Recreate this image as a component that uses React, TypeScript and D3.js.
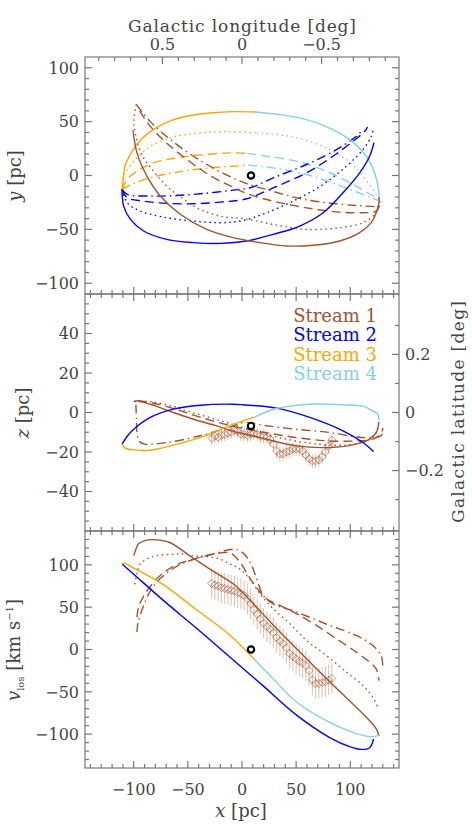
import React from "react";
import * as d3 from "d3";

// ---------------- data: top panel (x [pc], y [pc]) ----------------
const s1TopSolid = [[-100.6,42],[-97,21],[-87.8,-0.6],[-75.5,-19],[-57,-36],[-32.5,-50],[-8,-57.7],[16.6,-62.3],[41,-65.4],[65.7,-64.8],[90.2,-60.8],[108.7,-53],[119.4,-43.8],[124,-34.6],[126.5,-25.3],[126.5,-20]];
const s1TopDot = [[-97.6,66],[-99.5,55],[-100,48],[-98.5,39.5],[-95.5,27],[-90.9,16.4],[-81.7,4],[-69.4,-10],[-54,-22],[-38.7,-31.5],[-17.2,-38.3],[2,-40],[28.8,-45.4],[59.6,-50],[90.2,-48.5],[111.7,-43.8],[122.5,-36],[125.5,-28.4]];
const s1TopDash = [[-94.5,60],[-84.7,45.6],[-69.4,30],[-51,15],[-29.5,0],[-8,-11],[5,-17],[28.8,-23.8],[59.6,-30],[90.2,-34],[111.7,-34.6],[124,-33],[127,-28]];
const s1TopDashDot = [[-97.6,66],[-84.7,50],[-69.4,36],[-51,22],[-29.5,8.6],[-8,-2.5],[7,-8.5],[22.7,-13],[50.4,-20.7],[78,-25.3],[105.6,-27.8],[127,-28.4],[130,-26]];

const s2TopSolid = [[-110.8,-13],[-109.3,-28.4],[-103,-40.7],[-90.9,-51.5],[-69.4,-59.3],[-44.8,-62.3],[-20,-63],[4.3,-60.8],[28.8,-54.6],[53.4,-46.9],[74.9,-34.6],[93.3,-16],[108.7,2.5],[117.9,17.9],[121.9,30.5]];
const s2TopDot = [[-110.8,-13],[-106,-25.3],[-94,-33],[-69.4,-39.2],[-44.8,-42.3],[-20,-43.8],[0,-42],[22.7,-34.6],[50.4,-22.2],[74.9,-8.3],[96.4,8.6],[111.7,24],[119.4,36.4],[121,42]];
const s2TopDash = [[-110.8,-13],[-106,-20.7],[-90.9,-23.8],[-69.4,-25.9],[-44.8,-26.2],[-20,-24.7],[4.3,-21.6],[28.8,-11.4],[59.6,2.5],[84,17.9],[102.5,31.8],[113.3,41],[116,45]];
const s2TopDashDot = [[-110.8,-13],[-106,-17.6],[-84.7,-19.1],[-60,-18.5],[-35.6,-16.7],[-8,-13.6],[7.4,-11.4],[28.8,-2.2],[59.6,10.2],[87.2,24],[105.6,36.4],[112,43]];

const s3TopSolid = [[-110.8,-13],[-109.5,-3],[-108.2,8.6],[-104,18],[-98.5,27],[-92,34.5],[-84.3,41],[-69.4,49.4],[-51,55],[-29.5,58],[-8,59.3],[12,59]];
const s3TopDot = [[-110.8,-13],[-109.3,-0.6],[-100,13],[-84.7,27],[-63.3,35.8],[-38.7,39.5],[-14,40.7],[13.5,39.5]];
const s3TopDash = [[-110.8,-13],[-106,-3.7],[-97,4],[-81.7,11.7],[-60,16.4],[-35.6,19.4],[-8,21],[5,20.5]];
const s3TopDashDot = [[-110.8,-13],[-100,-7.4],[-81.7,-1.2],[-60,3.1],[-35.6,6.5],[-8,8.6],[6,9.6]];

const s4TopSolid = [[12,59],[35,56.5],[59.6,51.8],[81,44],[99.4,33.3],[114.8,17.9],[122.5,2.5],[126.5,-16],[126.5,-21]];
const s4TopDot = [[13.5,39.5],[44.2,36.4],[74.9,27],[96.4,14.8],[111.7,-0.6],[124,-17.6],[128.6,-25.3]];
const s4TopDash = [[5,20.5],[22.7,17.9],[50.4,13.3],[78,4],[102.5,-8.3],[121,-19],[127,-22]];
const s4TopDashDot = [[6,9.6],[28.8,7.1],[59.6,0.9],[87.2,-8.3],[111.7,-17.6],[127,-23.8],[130,-26]];

// ---------------- data: middle panel (x [pc], z [pc]) ----------------
const s1MidSolid = [[-100,5.4],[-98.5,5.9],[-84.7,4.2],[-75.5,2.5],[-63.3,0],[-44.8,-3.4],[-25,-6.5],[-8,-9.5],[16.6,-12.7],[50.4,-16.9],[81,-17.7],[105.6,-16],[117.9,-13.5],[124,-10.1],[126.4,-4.8]];
const s1MidDot = [[-99,5.5],[-83,5.4],[-63,3],[-51,0.8],[-20,-4.2],[10.4,-9.3],[41,-13.5],[70,-16],[95,-16.5],[112,-15],[122,-12],[126,-7]];
const s1MidDash = [[-96,6],[-84,5],[-63,2],[-38,-2.5],[-8,-7],[20,-10],[50.4,-12.7],[81,-14.4],[105.6,-14.4],[121,-13.5],[128,-11],[130,-8]];
const s1MidDashDot = [[-98,4],[-97.5,-3],[-97,-10],[-95,-14.5],[-90,-16],[-69.4,-15.2],[-38.7,-11.8],[-8,-6.8],[1.2,-5],[20,-6.5],[50,-8.5],[81,-10.1],[111.7,-12.7],[128.5,-11.8],[130,-8]];
const s2MidSolid = [[-110.8,-16],[-106,-12],[-100,-8.5],[-84.7,-2.5],[-63.3,1.7],[-38.7,3.7],[-8,4.2],[1.2,3.9],[32,2.2],[62.6,-2.5],[93.3,-9.3],[111.7,-15.2],[121.5,-19.8]];
const s3MidSolid = [[-110.8,-16],[-108,-18],[-100,-18.9],[-84.7,-19.1],[-63.3,-16.5],[-38.7,-12.7],[-8,-5.9],[1.2,-4.2],[12,-2.2]];
const s4MidSolid = [[12,-2.2],[32,2],[62.6,4.2],[93.3,3.9],[111.7,3.2],[120,1],[125.6,-0.9],[126.4,-4.2]];

// ---------------- data: bottom panel (x [pc], v_los [km/s]) ----------------
const s1BotSolid = [[-100,111],[-97.5,120],[-95.5,125],[-89,129],[-83,129.8],[-67.8,127],[-46.3,109],[-27.9,93.5],[-6.4,76],[12,52],[28.8,29],[50.4,1],[81,-38],[111.7,-76],[124,-93.8],[126.5,-102]];
const s1BotDot = [[-99,77],[-97,90],[-94,101],[-86,108],[-78.6,111],[-64.7,112.4],[-54,113],[-46.3,111],[-23.3,108],[-11,101],[-1.8,95],[8,82],[17,65],[28.8,48.2],[44.2,30.4],[59.6,10.7],[78,-7.1],[96.4,-26.7],[111.7,-42.6],[120.8,-56.3],[126.5,-71]];
const s1BotDash = [[-97,38],[-95.5,50],[-89.4,66],[-77,85.7],[-61.6,99.4],[-43.3,107.3],[-24.9,113],[-11,114],[-1.8,103],[7.4,84],[16.6,68],[22.7,60],[35,52],[50.4,42.2],[68.8,28.4],[87.2,12.7],[105.6,-3.1],[117.9,-15],[124,-22.8],[126.5,-36.7]];
const s1BotDashDot = [[-97,20.6],[-96.5,28],[-95.5,34.3],[-86,66],[-74,85.7],[-55.6,101.4],[-37,109.3],[-22,114.5],[-8,118.5],[0,115],[7.4,103.4],[13.5,83.7],[19.6,64],[28.8,54],[50.4,44.3],[81,28.4],[105.6,16.6],[120.8,4.7],[128.5,-7.1],[130,-19]];
const s2BotSolid = [[-110.8,101],[-100,89],[-74,59.5],[-43.3,26.5],[-12.6,-7.4],[7.4,-29.5],[19.6,-43],[50.4,-77.5],[81,-104],[100,-115],[110,-118],[117.9,-116],[121.5,-105.7]];
const s3BotSolid = [[-110.8,101.5],[-108,101.8],[-104.7,99.4],[-74,77.8],[-43.3,48.2],[-12.6,18.6],[12,-12.5]];
const s4BotSolid = [[12,-12.5],[28.8,-34.7],[50.4,-62],[81,-86],[111.7,-101.5],[120,-103],[126.5,-101.5]];

// ---------------- observed stream-1 data ----------------
const obsX = [-28,-25,-22,-19,-16,-13,-10,-7,-4,-1,2,5,8,11,14,17,20,23,26,29,32,35,38,41,44,47,50,53,56,59,62,65,68,71,74,77,80,83];
const obsZ = [-13,-12,-12.5,-11.5,-11,-10.5,-10,-9,-9.5,-11,-11,-11.5,-11,-10.5,-11,-12,-12,-12.5,-13.5,-16,-19.5,-21,-21,-20,-19.5,-18.5,-18.5,-18.5,-19.5,-21.5,-23.5,-24.5,-24.5,-24,-22.5,-20,-17,-14];
const obsV = [78,76,75,73,72,71,70,69,67,66,64,60,54,47,42,36,31,27,24,20,14,10,7,2,-5,-8,-11,-14,-16,-19,-25,-36,-40,-40,-39,-38,-36,-34];
const obsZErr = 3.5;
const obsVErr = 18;

// reference marker
const markX = [8.3];
const markY = [0];
const markZ = [-6.8];
const markV = [0];

// axis ticks / labels
const yTopTicks = [-100, -50, 0, 50, 100];
const zTicks = [-40, -20, 0, 20, 40];
const vTicks = [-100, -50, 0, 50, 100];
const xTicks = [-100, -50, 0, 50, 100];
const lonLabels = [0.5, 0, -0.5];
const latLabels = [0.2, 0, -0.2];
const legendNames = ["Stream 1", "Stream 2", "Stream 3", "Stream 4"];

const PC_PER_DEG = 147;
const COLORS = ["#A0522D", "#0000FF", "#FFA500", "#87CEEB"];
const FONT = "DejaVu Serif";
const TXT = "#444";
const AXC = "#777";
const DASH: Record<string, string | undefined> = {
  solid: undefined,
  dot: "1.5,3.5",
  dash: "9,5",
  dashdot: "9,4,1.5,4",
};

const FL = 85, FR = 399, PH = 237;
const TOPS = [57, 294, 531];

const fmt = (v: number) => (v < 0 ? "\u2212" + String(Math.abs(v)) : String(v));

export default function App() {
  const x = d3.scaleLinear().domain([-145, 145]).range([FL, FR]);
  const yS = d3.scaleLinear().domain([-110, 110]).range([TOPS[0] + PH, TOPS[0]]);
  const zS = d3.scaleLinear().domain([-60, 60]).range([TOPS[1] + PH, TOPS[1]]);
  const vS = d3.scaleLinear().domain([-140, 140]).range([TOPS[2] + PH, TOPS[2]]);

  const mkLine = (ys: d3.ScaleLinear<number, number>) =>
    d3.line<number[]>().x((d) => x(d[0])).y((d) => ys(d[1])).curve(d3.curveCatmullRom.alpha(0.5));
  const lTop = mkLine(yS), lMid = mkLine(zS), lBot = mkLine(vS);

  const curves: { d: string; c: string; s: string; clip: string }[] = [
    { d: lTop(s3TopDot)!, c: COLORS[2], s: "dot", clip: "c0" },
    { d: lTop(s3TopDash)!, c: COLORS[2], s: "dash", clip: "c0" },
    { d: lTop(s3TopDashDot)!, c: COLORS[2], s: "dashdot", clip: "c0" },
    { d: lTop(s4TopDot)!, c: COLORS[3], s: "dot", clip: "c0" },
    { d: lTop(s4TopDash)!, c: COLORS[3], s: "dash", clip: "c0" },
    { d: lTop(s4TopDashDot)!, c: COLORS[3], s: "dashdot", clip: "c0" },
    { d: lTop(s2TopDot)!, c: COLORS[1], s: "dot", clip: "c0" },
    { d: lTop(s2TopDash)!, c: COLORS[1], s: "dash", clip: "c0" },
    { d: lTop(s2TopDashDot)!, c: COLORS[1], s: "dashdot", clip: "c0" },
    { d: lTop(s1TopDot)!, c: COLORS[0], s: "dot", clip: "c0" },
    { d: lTop(s1TopDash)!, c: COLORS[0], s: "dash", clip: "c0" },
    { d: lTop(s1TopDashDot)!, c: COLORS[0], s: "dashdot", clip: "c0" },
    { d: lTop(s3TopSolid)!, c: COLORS[2], s: "solid", clip: "c0" },
    { d: lTop(s4TopSolid)!, c: COLORS[3], s: "solid", clip: "c0" },
    { d: lTop(s2TopSolid)!, c: COLORS[1], s: "solid", clip: "c0" },
    { d: lTop(s1TopSolid)!, c: COLORS[0], s: "solid", clip: "c0" },
    { d: lMid(s1MidDot)!, c: COLORS[0], s: "dot", clip: "c1" },
    { d: lMid(s1MidDash)!, c: COLORS[0], s: "dash", clip: "c1" },
    { d: lMid(s1MidDashDot)!, c: COLORS[0], s: "dashdot", clip: "c1" },
    { d: lMid(s1MidSolid)!, c: COLORS[0], s: "solid", clip: "c1" },
    { d: lMid(s2MidSolid)!, c: COLORS[1], s: "solid", clip: "c1" },
    { d: lMid(s3MidSolid)!, c: COLORS[2], s: "solid", clip: "c1" },
    { d: lMid(s4MidSolid)!, c: COLORS[3], s: "solid", clip: "c1" },
    { d: lBot(s1BotDot)!, c: COLORS[0], s: "dot", clip: "c2" },
    { d: lBot(s1BotDash)!, c: COLORS[0], s: "dash", clip: "c2" },
    { d: lBot(s1BotDashDot)!, c: COLORS[0], s: "dashdot", clip: "c2" },
    { d: lBot(s1BotSolid)!, c: COLORS[0], s: "solid", clip: "c2" },
    { d: lBot(s2BotSolid)!, c: COLORS[1], s: "solid", clip: "c2" },
    { d: lBot(s3BotSolid)!, c: COLORS[2], s: "solid", clip: "c2" },
    { d: lBot(s4BotSolid)!, c: COLORS[3], s: "solid", clip: "c2" },
  ];

  const range = (lo: number, hi: number, step: number) => {
    const out: number[] = [];
    for (let k = Math.ceil(lo / step - 1e-9); k * step <= hi + 1e-9; k++) out.push(+(k * step).toFixed(6));
    return out;
  };
  const isMajor = (v: number, m: number) => Math.abs(v / m - Math.round(v / m)) < 1e-6;
  const MAJ = 7, MIN = 4;
  const tickEls: JSX.Element[] = [];
  let key = 0;
  const yAxes = [
    { s: yS, d: [-110, 110], major: 50, minor: 10 },
    { s: zS, d: [-60, 60], major: 20, minor: 5 },
    { s: vS, d: [-140, 140], major: 50, minor: 10 },
  ];
  yAxes.forEach((ax, pi) => {
    const top = TOPS[pi], bot = TOPS[pi] + PH;
    range(ax.d[0], ax.d[1], ax.minor)
      .filter((v) => v > ax.d[0] && v < ax.d[1])
      .forEach((v) => {
        const L = isMajor(v, ax.major) ? MAJ : MIN;
        const py = ax.s(v);
        tickEls.push(<line key={key++} x1={FL} x2={FL + L} y1={py} y2={py} />);
        if (pi !== 1) tickEls.push(<line key={key++} x1={FR} x2={FR - L} y1={py} y2={py} />);
      });
    range(-140, 140, 10).forEach((v) => {
      const L = isMajor(v, 50) ? MAJ : MIN;
      const px = x(v);
      tickEls.push(<line key={key++} x1={px} x2={px} y1={bot} y2={bot - L} />);
      if (pi !== 0) tickEls.push(<line key={key++} x1={px} x2={px} y1={top} y2={top + L} />);
    });
  });
  range(-0.9, 0.9, 0.1).forEach((l) => {
    const L = isMajor(l, 0.5) ? MAJ : MIN;
    const px = x(-l * PC_PER_DEG);
    tickEls.push(<line key={key++} x1={px} x2={px} y1={TOPS[0]} y2={TOPS[0] + L} />);
  });
  range(-0.3, 0.3, 0.1).forEach((b) => {
    const L = isMajor(b, 0.2) ? MAJ : MIN;
    const py = zS(b * PC_PER_DEG);
    tickEls.push(<line key={key++} x1={FR} x2={FR - L} y1={py} y2={py} />);
  });

  const diamond = (cx: number, cy: number, r: number) =>
    `M${cx},${cy - r}L${cx + r},${cy}L${cx},${cy + r}L${cx - r},${cy}Z`;

  const obsMarks = (ys: d3.ScaleLinear<number, number>, vals: number[], err: number, pfx: string) =>
    obsX.map((ox, i) => (
      <g key={pfx + i}>
        <line x1={x(ox)} x2={x(ox)} y1={ys(vals[i] - err)} y2={ys(vals[i] + err)} stroke="#C08A6A" strokeOpacity={0.55} strokeWidth={1} />
        <path d={diamond(x(ox), ys(vals[i]), 4)} fill="none" stroke="#A0522D" strokeOpacity={0.6} strokeWidth={1} />
      </g>
    ));

  const textBase = { fontFamily: FONT, fill: TXT };

  return (
    <svg width={472} height={827} style={{ position: "absolute", left: 0, top: 0, background: "#fff" }}>
      <defs>
        {TOPS.map((t, i) => (
          <clipPath id={"c" + i} key={i}>
            <rect x={FL} y={t} width={FR - FL} height={PH} />
          </clipPath>
        ))}
      </defs>
      <rect x={0} y={0} width={472} height={827} fill="#fff" />

      <g clipPath="url(#c1)">{obsMarks(zS, obsZ, obsZErr, "z")}</g>
      <g clipPath="url(#c2)">{obsMarks(vS, obsV, obsVErr, "v")}</g>

      {curves.map((c, i) => (
        <path key={"cv" + i} d={c.d} fill="none" stroke={c.c} strokeWidth={1.4}
          strokeDasharray={DASH[c.s]} clipPath={`url(#${c.clip})`} />
      ))}

      <circle cx={x(markX[0])} cy={yS(markY[0])} r={3.2} fill="#fff" stroke="#000" strokeWidth={2.2} />
      <circle cx={x(markX[0])} cy={zS(markZ[0])} r={3.2} fill="#fff" stroke="#000" strokeWidth={2.2} />
      <circle cx={x(markX[0])} cy={vS(markV[0])} r={3.2} fill="#fff" stroke="#000" strokeWidth={2.2} />

      <g stroke={AXC} strokeWidth={1.2} fill="none">
        {TOPS.map((t, i) => (
          <rect key={"f" + i} x={FL} y={t} width={FR - FL} height={PH} />
        ))}
        {tickEls}
      </g>

      <g {...textBase} fontSize={16}>
        {yTopTicks.map((v) => (
          <text key={"yt" + v} x={79} y={yS(v)} dy="0.36em" textAnchor="end">{fmt(v)}</text>
        ))}
        {zTicks.map((v) => (
          <text key={"zt" + v} x={79} y={zS(v)} dy="0.36em" textAnchor="end">{fmt(v)}</text>
        ))}
        {vTicks.map((v) => (
          <text key={"vt" + v} x={79} y={vS(v)} dy="0.36em" textAnchor="end">{fmt(v)}</text>
        ))}
        {xTicks.map((v) => (
          <text key={"xt" + v} x={x(v)} y={795} textAnchor="middle">{fmt(v)}</text>
        ))}
        {lonLabels.map((l) => (
          <text key={"lt" + l} x={x(-l * PC_PER_DEG)} y={50} textAnchor="middle">{fmt(l)}</text>
        ))}
        {latLabels.map((b) => (
          <text key={"bt" + b} x={405} y={zS(b * PC_PER_DEG)} dy="0.36em" textAnchor="start">{fmt(b)}</text>
        ))}
      </g>

      <g {...textBase} fontSize={17}>
        <text x={242} y={32} textAnchor="middle" textLength={228} lengthAdjust="spacing">Galactic longitude [deg]</text>
        <text transform="translate(464,412) rotate(-90)" textAnchor="middle" textLength={222} lengthAdjust="spacing">Galactic latitude [deg]</text>
        <text x={241} y={817} textAnchor="middle" fontSize={18}>
          <tspan fontStyle="italic">x</tspan> [pc]
        </text>
        <text transform="translate(21,176) rotate(-90)" textAnchor="middle" fontSize={18}>
          <tspan fontStyle="italic">y</tspan> [pc]
        </text>
        <text transform="translate(29,413) rotate(-90)" textAnchor="middle" fontSize={18}>
          <tspan fontStyle="italic">z</tspan> [pc]
        </text>
        <text transform="translate(20,650) rotate(-90)" textAnchor="middle" fontSize={18}>
          <tspan fontStyle="italic">v</tspan>
          <tspan fontSize={10} dy={4}>los</tspan>
          <tspan dy={-4}> [km s</tspan>
          <tspan fontSize={10} dy={-7}>{"\u22121"}</tspan>
          <tspan dy={7}>]</tspan>
        </text>
      </g>

      <g fontFamily={FONT} fontSize={18} textAnchor="end">
        {legendNames.map((n, i) => (
          <text key={n} x={377} y={322 + i * 19.3} fill={COLORS[i]}>{n}</text>
        ))}
      </g>
    </svg>
  );
}
